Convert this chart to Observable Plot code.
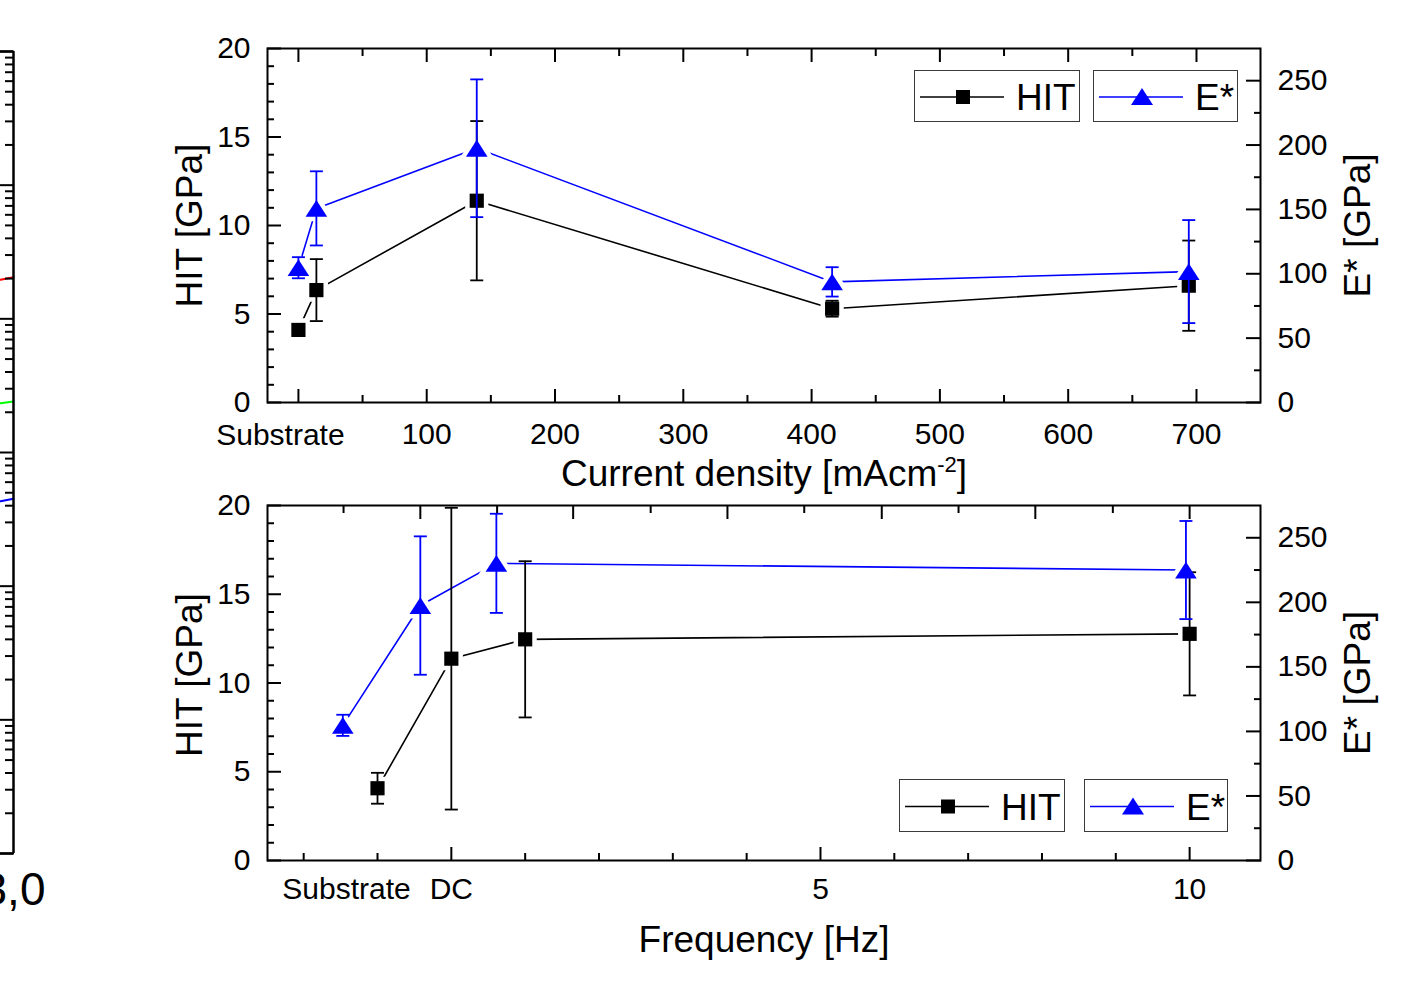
<!DOCTYPE html>
<html><head><meta charset="utf-8">
<script src="https://cdn.jsdelivr.net/npm/d3@7"></script>
<script src="https://cdn.jsdelivr.net/npm/@observablehq/plot@0.6"></script>
<style>
html,body{margin:0;padding:0;background:#fff;}
#page{position:relative;width:1427px;height:988px;overflow:hidden;font-family:"Liberation Sans",Arial,Helvetica,sans-serif;}
#page > svg{position:absolute;}
.legend{position:absolute;box-sizing:border-box;border:1.5px solid #3a3a3a;background:#fff;}
.legend svg{position:absolute;left:0;top:0;}
</style></head><body><div id="page"></div>
<script>
// ---------- data ----------
// top panel: x = current density [mA/cm^2]
const currentDensity = [0, 14, 139, 416, 694];
const hitCurrent     = [4.1, 6.35, 11.4, 5.3, 6.6];
const hitCurrentErr  = [0.3, 1.75, 4.5, 0.45, 2.55];
const eCurrent       = [104.7, 150.8, 197.5, 93.7, 101.7];
const eCurrentErr    = [8.2, 28.8, 53.5, 11.4, 40];

// bottom panel: x = frequency [Hz] (Substrate and DC placed left of 0/at 0)
const freqHitX   = [-1, 0, 1, 10];
const hitFreq    = [4.07, 11.37, 12.46, 12.77];
const hitFreqErr = [0.87, 8.5, 4.4, 3.47];
const freqEX     = [-1.47, -0.42, 0.61, 9.95];
const eFreq      = [104.7, 197.5, 230.2, 225];
const eFreqErr   = [8.2, 53.6, 38.4, 38];

// axes
const HIT_MAX = 20, E_MAX = 275;
const hitTicks = [0, 5, 10, 15, 20];
const hitMinorTicks = [1,2,3,4,6,7,8,9,11,12,13,14,16,17,18,19];
const eTicks = [0, 50, 100, 150, 200, 250];
const eMinorTicks = [25, 75, 125, 175, 225];
const currentTicks = [0, 100, 200, 300, 400, 500, 600, 700];
const currentMinorTicks = [50, 150, 250, 350, 450, 550, 650];
const currentTickLabels = ["Substrate", "100", "200", "300", "400", "500", "600", "700"];
const freqTicks = [0, 5, 10];
const freqMinorTicks = [-2, -1, 1, 2, 3, 4, 6, 7, 8, 9];
const freqTopTicks = [-0.42, 1.65, 3.74, 5.83, 7.91, 10];
const freqTopMinorTicks = [-1.46, 0.62, 2.70, 4.78, 6.87, 8.96];
const freqLabelPos = [-1.42, 0, 5, 10];
const freqTickLabels = ["Substrate", "DC", "5", "10"];

// cut-off neighbouring chart on the far left (log axis)
const fragX = [2.9, 3.0];
const fragRed = [19.6, 20.5];
const fragGreen = [2.34, 2.41];
const fragBlue = [0.432, 0.451];
const fragDecades = [1e-3, 1e-2, 1e-1, 1, 10, 100, 1000];
const fragXLabel = "3,0";

// ---------- helpers ----------
const FONT = '"Liberation Sans", Arial, Helvetica, sans-serif';
const BLUE = "#0000ff";
const eToY = e => e * HIT_MAX / E_MAX;
const capSymbol = {draw(ctx, size) { const r = Math.sqrt(size / Math.PI); ctx.moveTo(-r, 0); ctx.lineTo(r, 0); }};
const triSymbol = {draw(ctx, size) { const r = Math.sqrt(size / Math.PI); const w = r * 1.35, h = r * 1.05; ctx.moveTo(0, -h); ctx.lineTo(w, h); ctx.lineTo(-w, h); ctx.closePath(); }};

function rowsOf(xs, ys, errs, conv = v => v) {
  return xs.map((x, i) => ({x, y: conv(ys[i]), err: conv(errs[i])}));
}

function seriesMarks(hitRows, eRows) {
  const s = [
    {rows: hitRows, color: "black", symbol: "square", r: 8},
    {rows: eRows, color: BLUE, symbol: triSymbol, r: 8}
  ];
  const m = [];
  for (const d of s) m.push(Plot.line(d.rows, {x: "x", y: "y", stroke: d.color, strokeWidth: 1.6}));
  for (const d of s) m.push(Plot.dot(d.rows, {x: "x", y: "y", symbol: d.symbol, r: d.r, fill: "white", stroke: "white", strokeWidth: 9}));
  for (const d of s) {
    m.push(Plot.ruleX(d.rows, {x: "x", y1: r => r.y - r.err, y2: r => r.y + r.err, stroke: d.color, strokeWidth: 1.8}));
    m.push(Plot.dot(d.rows, {x: "x", y: r => r.y - r.err, symbol: capSymbol, r: 6.5, fill: "none", stroke: d.color, strokeWidth: 1.8}));
    m.push(Plot.dot(d.rows, {x: "x", y: r => r.y + r.err, symbol: capSymbol, r: 6.5, fill: "none", stroke: d.color, strokeWidth: 1.8}));
    m.push(Plot.dot(d.rows, {x: "x", y: "y", symbol: d.symbol, r: d.r, fill: d.color, stroke: "none"}));
  }
  return m;
}

function tickMarks(xMajor, xMinor, xTopMajor, xTopMinor) {
  const t = {tickFormat: () => "", label: null, strokeWidth: 2};
  return [
    Plot.axisX(xMajor, {...t, anchor: "bottom", tickSize: -13}),
    Plot.axisX(xMinor, {...t, anchor: "bottom", tickSize: -7}),
    Plot.axisX(xTopMajor, {...t, anchor: "top", tickSize: -13}),
    Plot.axisX(xTopMinor, {...t, anchor: "top", tickSize: -7}),
    Plot.axisY(hitTicks, {...t, anchor: "left", tickSize: -14}),
    Plot.axisY(hitMinorTicks, {...t, anchor: "left", tickSize: -7}),
    Plot.axisY(eTicks.map(eToY), {...t, anchor: "right", tickSize: -15}),
    Plot.axisY(eMinorTicks.map(eToY), {...t, anchor: "right", tickSize: -7})
  ];
}

function yLabelMarks(hitTitleDy) {
  return [
    Plot.text(hitTicks, {y: d => d, text: d => String(d), frameAnchor: "left", textAnchor: "end", lineAnchor: "middle", dx: -17, fontSize: 30}),
    Plot.text(eTicks, {y: d => eToY(d), text: d => String(d), frameAnchor: "right", textAnchor: "start", lineAnchor: "middle", dx: 17, fontSize: 30}),
    Plot.text(["HIT [GPa]"], {text: d => d, frameAnchor: "left", textAnchor: "middle", lineAnchor: "middle", rotate: -90, dx: -77, dy: hitTitleDy, fontSize: 37}),
    Plot.text(["E* [GPa]"], {text: d => d, frameAnchor: "right", textAnchor: "middle", lineAnchor: "middle", rotate: -90, dx: 98, fontSize: 37})
  ];
}

const page = document.getElementById("page");
const baseStyle = {fontFamily: FONT, fontSize: "30px", background: "transparent", overflow: "visible", color: "black"};

// ---------- top panel ----------
const topPlot = Plot.plot({
  width: 1427, height: 495,
  marginLeft: 267, marginRight: 167, marginTop: 48, marginBottom: 93,
  style: baseStyle,
  x: {domain: [-24.1, 749.9]},
  y: {domain: [0, HIT_MAX]},
  marks: [
    ...tickMarks(currentTicks, currentMinorTicks, currentTicks, currentMinorTicks),
    ...seriesMarks(rowsOf(currentDensity, hitCurrent, hitCurrentErr), rowsOf(currentDensity, eCurrent, eCurrentErr, eToY)),
    Plot.frame({stroke: "black", strokeWidth: 2}),
    ...yLabelMarks(0),
    Plot.text(currentTicks.slice(1), {x: d => d, text: (d, i) => currentTickLabels[i + 1], frameAnchor: "bottom", lineAnchor: "middle", dy: 32, fontSize: 30}),
    Plot.text(currentTicks.slice(0, 1), {x: d => d, text: () => currentTickLabels[0], frameAnchor: "bottom", lineAnchor: "middle", dy: 33, dx: -18, fontSize: 30}),
    Plot.text(["Current density [mAcm-2]"], {text: d => d, frameAnchor: "bottom", textAnchor: "middle", lineAnchor: "middle", dy: 72, fontSize: 37})
  ]
});
topPlot.style.left = "0px"; topPlot.style.top = "0px";
page.appendChild(topPlot);

// superscript in the axis title
for (const t of topPlot.querySelectorAll("text")) {
  if (t.textContent === "Current density [mAcm-2]") {
    t.textContent = "";
    const ns = "http://www.w3.org/2000/svg";
    const a = document.createElementNS(ns, "tspan"); a.textContent = "Current density [mAcm";
    const b = document.createElementNS(ns, "tspan"); b.textContent = "-2"; b.setAttribute("font-size", "22"); b.setAttribute("dy", "-14");
    const c = document.createElementNS(ns, "tspan"); c.textContent = "]"; c.setAttribute("dy", "14");
    t.append(a, b, c);
  }
}

// ---------- bottom panel ----------
const bottomPlot = Plot.plot({
  width: 1427, height: 493,
  marginLeft: 267, marginRight: 167, marginTop: 10, marginBottom: 128,
  style: baseStyle,
  x: {domain: [-2.49, 10.96]},
  y: {domain: [0, HIT_MAX]},
  marks: [
    ...tickMarks(freqTicks, freqMinorTicks, freqTopTicks, freqTopMinorTicks),
    ...seriesMarks(rowsOf(freqHitX, hitFreq, hitFreqErr), rowsOf(freqEX, eFreq, eFreqErr, eToY)),
    Plot.frame({stroke: "black", strokeWidth: 2}),
    ...yLabelMarks(-8),
    Plot.text(freqLabelPos, {x: d => d, text: (d, i) => freqTickLabels[i], frameAnchor: "bottom", lineAnchor: "middle", dy: 29, fontSize: 30}),
    Plot.text(["Frequency [Hz]"], {text: d => d, frameAnchor: "bottom", textAnchor: "middle", lineAnchor: "middle", dy: 80, fontSize: 37})
  ]
});
bottomPlot.style.left = "0px"; bottomPlot.style.top = "495px";
page.appendChild(bottomPlot);

// ---------- cut-off neighbouring chart (left edge) ----------
const fragMinor = fragDecades.slice(0, -1).flatMap(d => [2,3,4,5,6,7,8,9].map(m => m * d));
const fragPlot = Plot.plot({
  width: 60, height: 988,
  marginLeft: 0, marginRight: 47, marginTop: 51, marginBottom: 135,
  style: {fontFamily: FONT, background: "transparent", overflow: "hidden"},
  x: {domain: [2.9, 3.0], axis: null},
  y: {type: "log", domain: [1e-3, 1e3]},
  marks: [
    Plot.line(fragX.map((x, i) => ({x, y: fragRed[i]})), {x: "x", y: "y", stroke: "#ff0000", strokeWidth: 2}),
    Plot.line(fragX.map((x, i) => ({x, y: fragGreen[i]})), {x: "x", y: "y", stroke: "#00ff00", strokeWidth: 2}),
    Plot.line(fragX.map((x, i) => ({x, y: fragBlue[i]})), {x: "x", y: "y", stroke: "#0000ff", strokeWidth: 2}),
    Plot.axisY(fragDecades, {anchor: "right", tickSize: -14, tickFormat: () => "", label: null, strokeWidth: 2}),
    Plot.axisY(fragMinor, {anchor: "right", tickSize: -9, tickFormat: () => "", label: null, strokeWidth: 2}),
    Plot.ruleX([3.0], {stroke: "black", strokeWidth: 2.5}),
    Plot.ruleY([1e-3, 1e3], {stroke: "black", strokeWidth: 2.5}),
    Plot.text([3.0], {x: d => d, text: () => fragXLabel, frameAnchor: "bottom", textAnchor: "middle", lineAnchor: "middle", dy: 37, fontSize: 46})
  ]
});
fragPlot.style.left = "0px"; fragPlot.style.top = "0px";
page.appendChild(fragPlot);

// ---------- legends ----------
function legendBox(left, topPx, width, height, kind, label) {
  const div = document.createElement("div");
  div.className = "legend";
  Object.assign(div.style, {left: left + "px", top: topPx + "px", width: width + "px", height: height + "px"});
  const color = kind === "HIT" ? "black" : BLUE;
  const cy = height / 2;
  const marker = kind === "HIT"
    ? `<rect x="${48 - 7}" y="${cy - 7}" width="14" height="14" fill="black"/>`
    : `<path d="M48,${cy - 9} L59,${cy + 8} L37,${cy + 8} Z" fill="${BLUE}"/>`;
  div.innerHTML = `<svg width="${width}" height="${height}">
    <line x1="5" x2="89" y1="${cy}" y2="${cy}" stroke="${color}" stroke-width="1.6"/>
    ${marker}
    <text x="101" y="${cy + 13}" font-size="37" font-family='${FONT}' fill="black">${label}</text>
  </svg>`;
  page.appendChild(div);
}
legendBox(914, 70, 166, 52, "HIT", "HIT");
legendBox(1093, 70, 145, 52, "E", "E*");
legendBox(899, 779, 166, 53, "HIT", "HIT");
legendBox(1084, 779, 144, 53, "E", "E*");
</script></body></html>
